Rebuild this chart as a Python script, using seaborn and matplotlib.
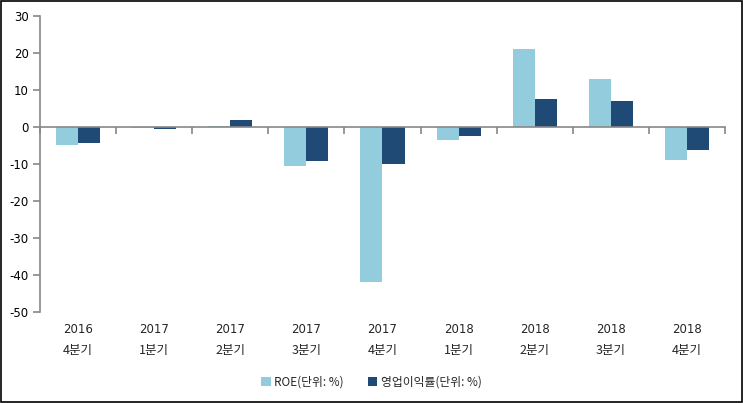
import pandas as pd
import numpy as np
import matplotlib
matplotlib.use("Agg")
import matplotlib.pyplot as plt
import matplotlib.transforms as mtransforms
import seaborn as sns

sns.set_theme(style="white")
plt.rcParams['font.family'] = ['DejaVu Sans', 'Noto Sans CJK KR']
plt.rcParams['axes.unicode_minus'] = False

# Data
years = ["2016", "2017", "2017", "2017", "2017", "2018", "2018", "2018", "2018"]
quarters = ["4분기", "1분기", "2분기", "3분기", "4분기", "1분기", "2분기", "3분기", "4분기"]
roe = [-4.8, -0.3, 0.3, -10.5, -41.9, -3.4, 21.2, 13.0, -8.9]
op_margin = [-4.3, -0.6, 1.9, -9.2, -10.0, -2.3, 7.6, 7.1, -6.1]
series_names = ["ROE(단위: %)", "영업이익률(단위: %)"]
colors = ["#93CDDD", "#1F4A75"]

cats = [f"{y}\n{q}" for y, q in zip(years, quarters)]
df = pd.DataFrame({
    "period": cats * 2,
    "value": roe + op_margin,
    "series": [series_names[0]] * len(cats) + [series_names[1]] * len(cats),
})

fig = plt.figure(figsize=(7.43, 4.03), dpi=100)
ax = fig.add_axes([0.0538, 0.2258, 0.922, 0.7345])

sns.barplot(data=df, x="period", y="value", hue="series", palette=colors,
            width=0.58, gap=0, saturation=1, linewidth=0, edgecolor="none",
            ax=ax, legend=True)

grey = "#878787"
ax.set_xlim(-0.5, len(cats) - 0.5)
ax.set_ylim(-50, 30)
ax.set_yticks(np.arange(-50, 31, 10))
ax.set_xlabel("")
ax.set_ylabel("")

for s in ["top", "right"]:
    ax.spines[s].set_visible(False)
ax.spines["left"].set_color(grey)
ax.spines["left"].set_linewidth(1.2)
ax.spines["bottom"].set_position(("data", 0))
ax.spines["bottom"].set_color(grey)
ax.spines["bottom"].set_linewidth(1.2)

# boundary ticks on the zero line, category labels under the plot
ax.set_xticks(np.arange(-0.5, len(cats), 1.0))
ax.set_xticklabels([])
ax.tick_params(axis="x", direction="out", length=5, width=1.2, color=grey, bottom=True)
ax.tick_params(axis="y", direction="out", length=5, width=1.2, color=grey, left=True,
               labelsize=8.5, labelcolor="black", pad=3)
for t in ax.get_yticklabels():
    t.set_family(['DejaVu Sans'])

trans = mtransforms.blended_transform_factory(ax.transData, ax.transAxes)
for i, (y, q) in enumerate(zip(years, quarters)):
    ax.text(i, -0.06, y, transform=trans, ha="center", va="center", fontsize=8.5,
            family=['DejaVu Sans'])
    ax.text(i, -0.13, q, transform=trans, ha="center", va="center", fontsize=9,
            family=['Noto Sans CJK KR', 'DejaVu Sans'])

handles, labels = ax.get_legend_handles_labels()
ax.get_legend().remove()
leg = fig.legend(handles, labels, loc="center", bbox_to_anchor=(0.5, 0.052), ncol=2,
                 frameon=False, handlelength=0.8, handleheight=0.8, handletextpad=0.3,
                 columnspacing=2.0,
                 prop={'family': ['Noto Sans CJK KR', 'DejaVu Sans'], 'size': 8.5})

fig.patches.append(plt.Rectangle((0.001, 0.002), 0.997, 0.996, transform=fig.transFigure,
                                 fill=False, edgecolor="black", linewidth=1.2))

fig.savefig("out.png", dpi=100)
